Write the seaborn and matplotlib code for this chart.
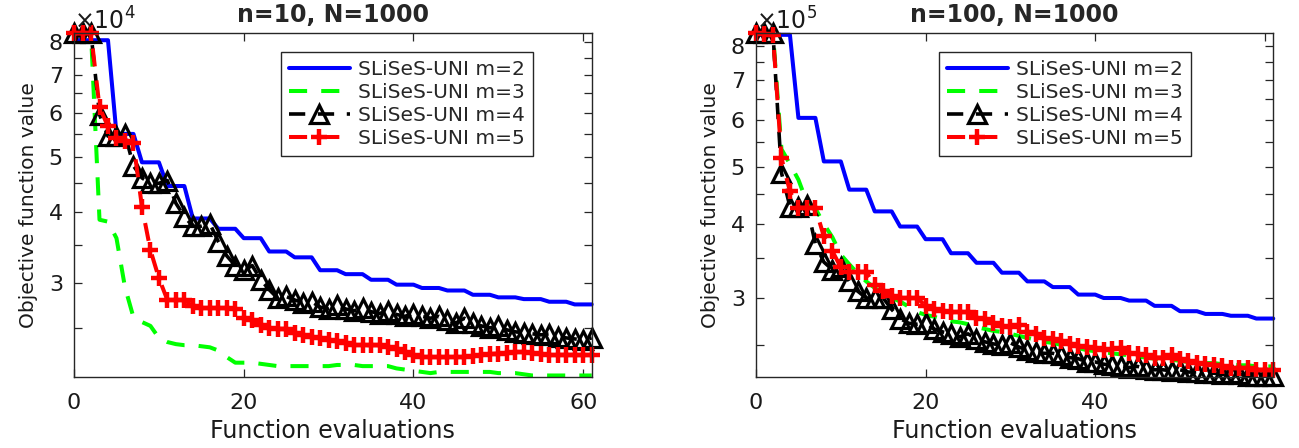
import numpy as np
import pandas as pd
import matplotlib
matplotlib.use('Agg')
import matplotlib.pyplot as plt
from matplotlib.ticker import FixedLocator, FuncFormatter, NullFormatter
import seaborn as sns

# Function evaluations (x axis)
evals = list(range(62))

# n=10, N=1000 panel (values in units of 1e4)
scale_a = 1e4
m2_a = [8.05, 8.05, 8.05, 8.05, 8.05, 5.5, 5.5, 5.5, 4.9, 4.9, 4.9, 4.45, 4.45, 4.45,
        3.9, 3.9, 3.9, 3.74, 3.74, 3.74, 3.6, 3.6, 3.6, 3.41, 3.41, 3.41, 3.33, 3.33, 3.33,
        3.16, 3.16, 3.16, 3.11, 3.11, 3.11, 3.04, 3.04, 3.04, 2.98, 2.98, 2.98, 2.94, 2.94, 2.94,
        2.91, 2.91, 2.91, 2.86, 2.86, 2.86, 2.83, 2.83, 2.83, 2.81, 2.81, 2.81, 2.78, 2.78, 2.78,
        2.75, 2.75, 2.75]
m3_a = [8.28, 8.28, 8.28, 3.88, 3.85, 3.6, 2.95, 2.61, 2.56, 2.52, 2.40, 2.36, 2.34, 2.33,
        2.33, 2.32, 2.31, 2.28, 2.22, 2.17, 2.17, 2.17, 2.16, 2.15, 2.14, 2.14, 2.14, 2.14, 2.14,
        2.14, 2.14, 2.15, 2.15, 2.15, 2.14, 2.14, 2.14, 2.14, 2.12, 2.11, 2.10, 2.09, 2.08, 2.09,
        2.09, 2.09, 2.09, 2.09, 2.09, 2.09, 2.08, 2.08, 2.08, 2.07, 2.06, 2.06, 2.06, 2.06, 2.06,
        2.06, 2.06, 2.06]
m4_a = [8.28, 8.28, 8.28, 5.95, 5.45, 5.45, 5.5, 4.83, 4.6, 4.5, 4.5, 4.55, 4.15, 3.93,
        3.78, 3.78, 3.82, 3.55, 3.35, 3.22, 3.16, 3.22, 3.04, 2.92, 2.82, 2.84, 2.80, 2.77, 2.78,
        2.72, 2.70, 2.74, 2.70, 2.68, 2.71, 2.67, 2.65, 2.68, 2.64, 2.62, 2.65, 2.62, 2.60, 2.62,
        2.58, 2.55, 2.60, 2.55, 2.52, 2.50, 2.52, 2.48, 2.46, 2.45, 2.44, 2.43, 2.44, 2.41, 2.40,
        2.39, 2.38, 2.40]
m5_a = [8.28, 8.28, 8.28, 6.13, 5.67, 5.40, 5.35, 5.30, 4.09, 3.43, 3.06, 2.80, 2.80, 2.80,
        2.73, 2.71, 2.71, 2.71, 2.71, 2.70, 2.60, 2.58, 2.53, 2.50, 2.49, 2.49, 2.45, 2.43, 2.41,
        2.40, 2.38, 2.37, 2.35, 2.33, 2.33, 2.33, 2.33, 2.31, 2.29, 2.27, 2.24, 2.22, 2.22, 2.22,
        2.22, 2.22, 2.22, 2.23, 2.24, 2.25, 2.25, 2.26, 2.27, 2.27, 2.26, 2.25, 2.24, 2.24, 2.24,
        2.24, 2.24, 2.24]

# n=100, N=1000 panel (values in units of 1e5)
scale_b = 1e5
m2_b = [8.34, 8.34, 8.34, 8.34, 8.34, 6.04, 6.04, 6.04, 5.10, 5.10, 5.10, 4.57, 4.57, 4.57,
        4.20, 4.20, 4.20, 3.96, 3.96, 3.96, 3.77, 3.77, 3.77, 3.57, 3.57, 3.57, 3.44, 3.44, 3.44,
        3.31, 3.31, 3.31, 3.20, 3.20, 3.20, 3.13, 3.13, 3.13, 3.04, 3.04, 3.04, 3.00, 3.00, 3.00,
        2.97, 2.97, 2.97, 2.91, 2.91, 2.91, 2.85, 2.85, 2.85, 2.82, 2.82, 2.82, 2.80, 2.80, 2.80,
        2.77, 2.77, 2.77]
m3_b = [8.39, 8.39, 8.39, 5.35, 5.05, 4.75, 4.35, 4.25, 4.0, 3.80, 3.55, 3.42, 3.30, 3.20,
        3.12, 3.05, 3.00, 2.96, 2.90, 2.84, 2.81, 2.79, 2.76, 2.74, 2.73, 2.71, 2.68, 2.66, 2.64,
        2.63, 2.61, 2.59, 2.57, 2.55, 2.53, 2.52, 2.50, 2.48, 2.47, 2.45, 2.44, 2.43, 2.42, 2.41,
        2.40, 2.39, 2.38, 2.37, 2.36, 2.36, 2.35, 2.34, 2.34, 2.33, 2.33, 2.32, 2.32, 2.31, 2.31,
        2.30, 2.30, 2.30]
m4_b = [8.39, 8.39, 8.39, 4.88, 4.28, 4.28, 4.30, 3.70, 3.45, 3.35, 3.39, 3.20, 3.08, 3.00,
        3.00, 3.00, 2.87, 2.77, 2.72, 2.71, 2.72, 2.66, 2.63, 2.61, 2.58, 2.61, 2.56, 2.53, 2.51,
        2.50, 2.52, 2.48, 2.45, 2.43, 2.42, 2.42, 2.40, 2.38, 2.37, 2.34, 2.34, 2.32, 2.31, 2.30,
        2.29, 2.30, 2.28, 2.27, 2.27, 2.26, 2.27, 2.25, 2.25, 2.24, 2.24, 2.23, 2.24, 2.23, 2.22,
        2.22, 2.22, 2.22]
m5_b = [8.39, 8.37, 8.34, 5.17, 4.54, 4.26, 4.26, 4.26, 3.81, 3.60, 3.38, 3.32, 3.32, 3.32,
        3.15, 3.08, 3.02, 3.00, 3.00, 3.00, 2.91, 2.88, 2.85, 2.84, 2.84, 2.84, 2.78, 2.76, 2.72,
        2.69, 2.68, 2.70, 2.63, 2.61, 2.57, 2.56, 2.54, 2.51, 2.49, 2.48, 2.47, 2.45, 2.46, 2.47,
        2.42, 2.41, 2.40, 2.38, 2.38, 2.40, 2.37, 2.35, 2.33, 2.32, 2.31, 2.30, 2.29, 2.29, 2.29,
        2.27, 2.27, 2.27]

labels = ['SLiSeS-UNI m=2', 'SLiSeS-UNI m=3', 'SLiSeS-UNI m=4', 'SLiSeS-UNI m=5']
titles = ['n=10, N=1000', 'n=100, N=1000']

sns.set_theme(style='ticks')
plt.rcParams['font.family'] = ['DejaVu Sans']
plt.rcParams['mathtext.fontset'] = 'dejavusans'
plt.rcParams['mathtext.default'] = 'regular'

styles = [
    dict(color='#0000ff', lw=2.9, linestyle='-'),
    dict(color='#00ff00', lw=2.9, linestyle=(0, (4.5, 3.5))),
    dict(color='black', lw=2.6, linestyle=(0, (4.5, 3.5)), marker='^', markersize=13,
         markerfacecolor='none', markeredgecolor='black', markeredgewidth=2.3),
    dict(color='#ff0000', lw=2.9, linestyle=(0, (4.5, 3.5)), marker='+', markersize=12,
         markeredgewidth=3.2, markeredgecolor='#ff0000'),
]

fig = plt.figure(figsize=(12.99, 4.48), dpi=100)
panels = [
    (fig.add_axes([0.057, 0.1592, 0.3985, 0.7665]), [m2_a, m3_a, m4_a, m5_a], scale_a, '4',
     (2.05, 8.28), 0.40),
    (fig.add_axes([0.582, 0.1592, 0.3982, 0.7665]), [m2_b, m3_b, m4_b, m5_b], scale_b, '5',
     (2.21, 8.39), 0.354),
]

for i, (ax, series, scale, expo, ylim, legx) in enumerate(panels):
    for vals, lab, st in zip(series, labels, styles):
        df = pd.DataFrame({'evals': evals, 'value': np.array(vals) * scale})
        sns.lineplot(data=df, x='evals', y='value', ax=ax, label=lab, estimator=None,
                     errorbar=None, clip_on=False, **st)
    ax.set_yscale('log')
    ax.set_xlim(0, 61)
    ax.set_ylim(ylim[0] * scale, ylim[1] * scale)
    ax.set_xticks([0, 20, 40, 60])
    ax.yaxis.set_major_locator(FixedLocator([v * scale for v in [3, 4, 5, 6, 7, 8]]))
    ax.yaxis.set_major_formatter(FuncFormatter(lambda v, p, s=scale: f'{v / s:.0f}'))
    ax.yaxis.set_minor_locator(FixedLocator([v * scale for v in [2.5, 3.5, 4.5, 5.5, 6.5, 7.5]]))
    ax.yaxis.set_minor_formatter(NullFormatter())
    ax.tick_params(which='both', direction='in', top=True, right=True, length=6, width=0.9,
                   colors='#262626', labelcolor='#1a1a1a', labelsize=16, pad=8)
    ax.tick_params(axis='x', pad=12)
    for sp in ax.spines.values():
        sp.set_visible(True)
        sp.set_linewidth(1.0)
        sp.set_color('#262626')
    ax.set_xlabel('Function evaluations', fontsize=17, labelpad=4, color='#1a1a1a')
    ax.set_ylabel('Objective function value', fontsize=14.5, labelpad=8, color='#1a1a1a')
    ax.set_title(titles[i], fontsize=17, fontweight='bold', pad=8)
    ax.text(0.0, 0.995, r'$\times10^{%s}$' % expo, transform=ax.transAxes, fontsize=17,
            ha='left', va='bottom', color='#1a1a1a')
    leg = ax.legend(loc='upper left', bbox_to_anchor=(legx, 0.946), fontsize=14.5,
                    frameon=True, fancybox=False, framealpha=1, edgecolor='#262626',
                    borderaxespad=0, handlelength=3.0, handletextpad=0.4, labelspacing=0.2,
                    borderpad=0.4)
    leg.get_frame().set_linewidth(1.0)

fig.savefig('out.png', dpi=100)
